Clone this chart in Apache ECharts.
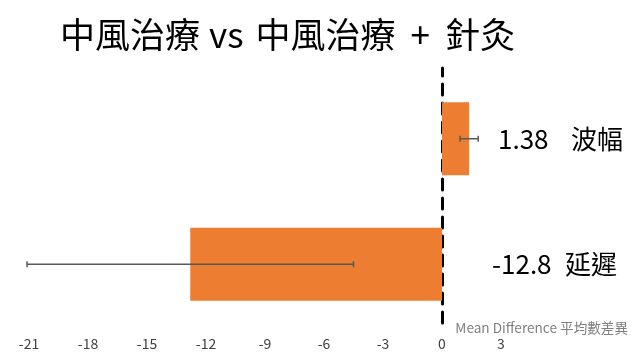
<!DOCTYPE html>
<html>
<head>
<meta charset="utf-8">
<script src="https://cdn.jsdelivr.net/npm/echarts@6/dist/echarts.min.js"></script>
<style>html,body{margin:0;padding:0;background:#fff}#c{width:640px;height:360px}</style>
</head>
<body>
<div id="c"></div>
<script>
var categories = ['延遲', '波幅'];
var values = [-12.8, 1.38];
var ciLow = [-21.1, 0.92];
var ciHigh = [-4.5, 1.84];
var xTicks = { min: -21, max: 3, interval: 3 };
var titleParts = ['中風治療', 'vs', '中風治療', '+', '針灸'];
var axisTitle = 'Mean Difference 平均數差異';

var FONT = '"Noto Sans CJK TC", "Noto Sans", sans-serif';
var chart = echarts.init(document.getElementById('c'));
var errData = categories.map(function (c, i) { return [i, ciLow[i], ciHigh[i]]; });

var titleRich = '{c|' + titleParts[0] + '}{vs|' + titleParts[1] + '}{c|' + titleParts[2] +
  '}{pl|' + titleParts[3] + '}{c|' + titleParts[4] + '}';

chart.setOption({
  animation: false,
  backgroundColor: '#fff',
  textStyle: { fontFamily: FONT },
  title: {
    text: titleRich, left: 55, top: 12,
    textStyle: {
      fontSize: 35, fontWeight: 'normal', color: '#000', fontFamily: FONT,
      rich: {
        c: { fontSize: 35, color: '#000', fontFamily: FONT },
        vs: { fontSize: 35, color: '#000', fontFamily: FONT, padding: [0, 12, 0, 9] },
        pl: { fontSize: 35, color: '#000', fontFamily: FONT, padding: [0, 15, 0, 15] }
      }
    }
  },
  graphic: [{
    type: 'text', right: 12, top: 321,
    style: { text: axisTitle, fontSize: 13.6, fill: '#7f7f7f', fontFamily: FONT }
  }],
  grid: [
    { left: 29, right: 139, top: 76, bottom: 33 },
    { left: 29, right: 139, top: 68, bottom: 37 }
  ],
  xAxis: [{
    type: 'value', gridIndex: 0, min: xTicks.min, max: xTicks.max, interval: xTicks.interval,
    axisLine: { show: false }, axisTick: { show: false }, splitLine: { show: false },
    axisLabel: { color: '#404040', fontSize: 14, margin: 10, fontFamily: FONT }
  }, {
    type: 'value', gridIndex: 1, min: xTicks.min, max: xTicks.max, show: false
  }],
  yAxis: [{
    type: 'category', gridIndex: 0, data: categories, position: 'right',
    axisLine: { show: false }, axisTick: { show: false }, splitLine: { show: false },
    axisLabel: {
      margin: -9, align: 'left',
      formatter: function (v, i) {
        return (i === 1 ? '{p|}' : '') + '{v|' + values[i] + '}{n|' + v + '}';
      },
      rich: {
        p: { width: 6 },
        v: { fontSize: 26, color: '#000', width: 73, fontFamily: FONT },
        n: { fontSize: 26, color: '#000', fontFamily: FONT }
      }
    }
  }, {
    type: 'value', gridIndex: 1, min: 0, max: 1,
    axisLine: { show: true, onZero: true, lineStyle: { color: '#000', width: 3, type: [11, 8] } },
    axisTick: { show: false }, axisLabel: { show: false }, splitLine: { show: false }, z: 0
  }],
  series: [{
    type: 'bar', xAxisIndex: 0, yAxisIndex: 0, data: values, barWidth: 73, z: 2,
    itemStyle: { color: '#ED7D31' }
  }, {
    type: 'custom', xAxisIndex: 0, yAxisIndex: 0, data: errData, z: 5,
    renderItem: function (params, api) {
      var y = api.value(0);
      var p1 = api.coord([api.value(1), y]);
      var p2 = api.coord([api.value(2), y]);
      var h = 3;
      var st = { stroke: '#595959', lineWidth: 1.5 };
      return {
        type: 'group', children: [
          { type: 'line', shape: { x1: p1[0], y1: p1[1], x2: p2[0], y2: p2[1] }, style: st },
          { type: 'line', shape: { x1: p1[0], y1: p1[1] - h, x2: p1[0], y2: p1[1] + h }, style: st },
          { type: 'line', shape: { x1: p2[0], y1: p2[1] - h, x2: p2[0], y2: p2[1] + h }, style: st }
        ]
      };
    }
  }]
});
</script>
</body>
</html>
